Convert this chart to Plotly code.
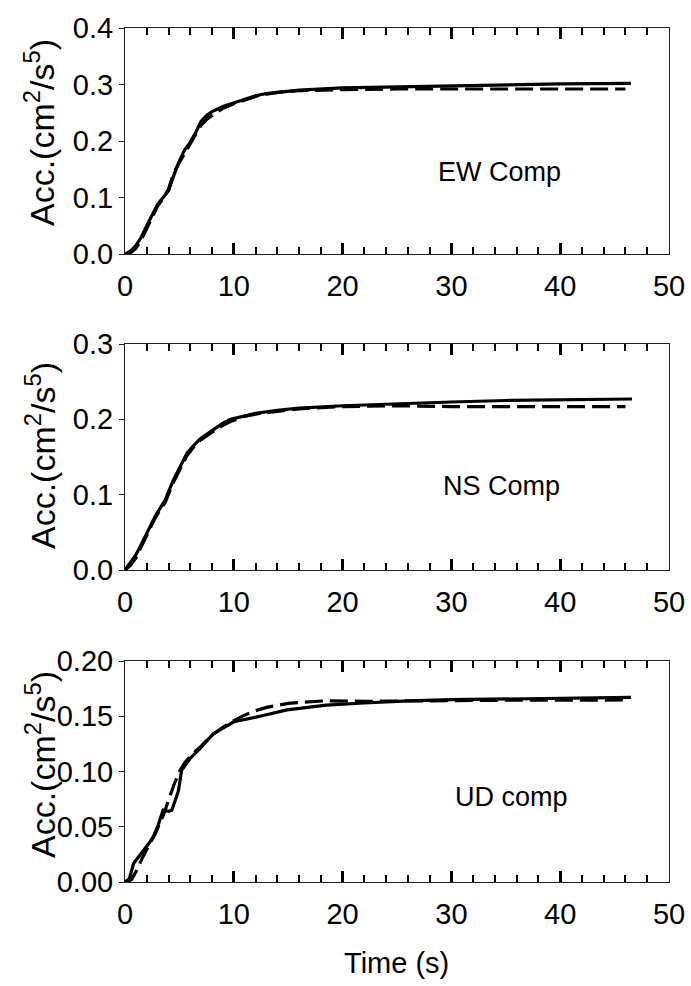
import plotly.graph_objects as go

# ---------------- data ----------------
ew_t_solid = [0, 0.5, 1.0, 1.5, 2.0, 2.5, 3.0, 3.5, 4.0, 4.5, 5.0, 5.5, 6.0, 6.5, 7.0, 7.5, 8, 9, 10, 11, 12, 13, 14, 16, 20, 25, 30, 35, 40, 46.5]
ew_solid = [0, 0.005, 0.015, 0.030, 0.050, 0.068, 0.088, 0.100, 0.112, 0.140, 0.165, 0.185, 0.198, 0.215, 0.235, 0.245, 0.252, 0.261, 0.267, 0.274, 0.280, 0.284, 0.286, 0.290, 0.294, 0.296, 0.298, 0.299, 0.301, 0.302]
ew_t_dash = [0, 0.5, 1.0, 1.5, 2.0, 2.5, 3.0, 3.5, 4.0, 4.5, 5.0, 5.5, 6.0, 6.5, 7.0, 7.5, 8, 9, 10, 11, 12, 13, 14, 16, 18, 20, 25, 30, 35, 40, 46]
ew_dash = [0, 0.002, 0.010, 0.025, 0.045, 0.065, 0.085, 0.098, 0.115, 0.145, 0.162, 0.180, 0.195, 0.212, 0.228, 0.238, 0.245, 0.258, 0.266, 0.273, 0.279, 0.283, 0.286, 0.289, 0.290, 0.291, 0.292, 0.292, 0.292, 0.292, 0.292]

ns_t_solid = [0, 0.5, 1.0, 1.7, 2.3, 2.8, 3.7, 4.4, 5.0, 5.7, 6.3, 6.9, 8, 9, 9.7, 11, 12, 14, 16, 20, 25, 30, 35, 40, 46.6]
ns_solid = [0, 0.010, 0.020, 0.040, 0.058, 0.072, 0.093, 0.118, 0.135, 0.155, 0.165, 0.174, 0.185, 0.195, 0.200, 0.205, 0.208, 0.212, 0.215, 0.218, 0.221, 0.223, 0.225, 0.226, 0.227]
ns_t_dash = [0, 0.5, 1.0, 1.7, 2.3, 2.8, 3.7, 4.4, 5.0, 5.7, 6.3, 6.9, 8, 9, 9.7, 11, 12, 14, 16, 20, 25, 30, 35, 40, 46]
ns_dash = [0, 0.006, 0.016, 0.036, 0.055, 0.070, 0.090, 0.115, 0.133, 0.152, 0.163, 0.172, 0.183, 0.192, 0.197, 0.204, 0.207, 0.211, 0.214, 0.217, 0.218, 0.217, 0.217, 0.217, 0.217]

ud_t_solid = [0, 0.4, 0.8, 1.2, 1.7, 2.2, 2.6, 3.0, 3.5, 4.0, 4.3, 4.9, 5.2, 5.6, 6.0, 6.9, 8.1, 10, 11, 12.4, 14.9, 18.5, 22, 26, 30, 35, 40, 46.5]
ud_solid = [0, 0.003, 0.017, 0.022, 0.029, 0.035, 0.041, 0.050, 0.065, 0.064, 0.065, 0.082, 0.101, 0.107, 0.112, 0.121, 0.134, 0.145, 0.147, 0.150, 0.1557, 0.160, 0.162, 0.164, 0.165, 0.1655, 0.166, 0.167]
ud_t_dash = [0, 0.6, 1.1, 1.6, 2.2, 2.8, 3.5, 4.0, 4.5, 5.0, 5.5, 6.0, 7, 8, 9, 10, 11, 12, 13, 15, 18.5, 22, 26, 30, 35, 40, 46]
ud_dash = [0, 0.002, 0.011, 0.022, 0.033, 0.044, 0.060, 0.075, 0.088, 0.100, 0.108, 0.114, 0.123, 0.133, 0.140, 0.146, 0.151, 0.155, 0.158, 0.1617, 0.164, 0.1635, 0.164, 0.1645, 0.1645, 0.1645, 0.1647]

x_ticks = [0, 10, 20, 30, 40, 50]
panel_labels = ["EW Comp", "NS Comp", "UD comp"]
y_ranges = [[0, 0.4], [0, 0.3], [0, 0.2]]
y_dticks = [0.1, 0.1, 0.05]
y_formats = [".1f", ".1f", ".2f"]
y_title = "Acc.(cm<sup>2</sup>/s<sup>5</sup>)"
x_title = "Time (s)"

# ---------------- figure ----------------
W, H = 691, 986
FONT = "Liberation Sans, Arial, sans-serif"
fig = go.Figure()

panels = [
    (ew_t_solid, ew_solid, ew_t_dash, ew_dash),
    (ns_t_solid, ns_solid, ns_t_dash, ns_dash),
    (ud_t_solid, ud_solid, ud_t_dash, ud_dash),
]
# pixel rows of plot areas (top, bottom)
rows = [(28, 254), (344, 570), (661, 882)]
title_centers = [133, 456, 765]
xl, xr = 125, 669

for i, (ts, ys, td, yd) in enumerate(panels):
    xa = "x" if i == 0 else f"x{i+1}"
    ya = "y" if i == 0 else f"y{i+1}"
    fig.add_trace(go.Scatter(x=td, y=yd, mode="lines", xaxis=xa, yaxis=ya,
                             line=dict(color="black", width=3.2, dash="18px,7px"),
                             showlegend=False))
    fig.add_trace(go.Scatter(x=ts, y=ys, mode="lines", xaxis=xa, yaxis=ya,
                             line=dict(color="black", width=3.2),
                             showlegend=False))
    top, bot = rows[i]
    xkey = "xaxis" if i == 0 else f"xaxis{i+1}"
    ykey = "yaxis" if i == 0 else f"yaxis{i+1}"
    fig.update_layout(**{
        xkey: dict(domain=[xl / W, xr / W], anchor=ya, range=[0, 50],
                   tickvals=x_ticks, ticks="inside", ticklen=11, tickwidth=3,
                   tickcolor="black", showline=True, linecolor="#222", linewidth=1,
                   mirror="ticks", showgrid=False, zeroline=False,
                   minor=dict(dtick=2, ticks="inside", ticklen=7, tickwidth=1.5,
                              tickcolor="black", showgrid=False),
                   tickfont=dict(family=FONT, size=29, color="black"),
                   ticklabelstandoff=6, fixedrange=True, automargin=False),
        ykey: dict(domain=[1 - bot / H, 1 - top / H], anchor=xa, range=y_ranges[i],
                   dtick=y_dticks[i], tick0=0, tickformat=y_formats[i],
                   ticks="outside", ticklen=5, tickwidth=1, tickcolor="#222",
                   showline=True, linecolor="#222", linewidth=1, mirror=True,
                   showgrid=False, zeroline=False,
                   tickfont=dict(family=FONT, size=29, color="black"),
                   fixedrange=True, automargin=False),
    })
    # y-axis title
    fig.add_annotation(text=y_title, xref="paper", yref="paper",
                       x=40 / W, y=1 - title_centers[i] / H, xanchor="center", yanchor="middle",
                       textangle=-90, showarrow=False,
                       font=dict(family=FONT, size=34, color="black"))
    # panel label
    fig.add_annotation(text=panel_labels[i], xref=xa, yref=ya,
                       x=[34.4, 34.6, 35.5][i], y=[0.145, 0.112, 0.077][i],
                       showarrow=False, xanchor="center", yanchor="middle",
                       font=dict(family=FONT, size=27, color="black"))

fig.add_annotation(text=x_title, xref="paper", yref="paper",
                   x=397 / W, y=1 - 963 / H, xanchor="center", yanchor="middle",
                   showarrow=False, font=dict(family=FONT, size=29, color="black"))

fig.update_layout(width=W, height=H,
                  margin=dict(l=0, r=0, t=0, b=0, pad=0, autoexpand=False),
                  paper_bgcolor="white", plot_bgcolor="white")

fig.write_html("out.html")
